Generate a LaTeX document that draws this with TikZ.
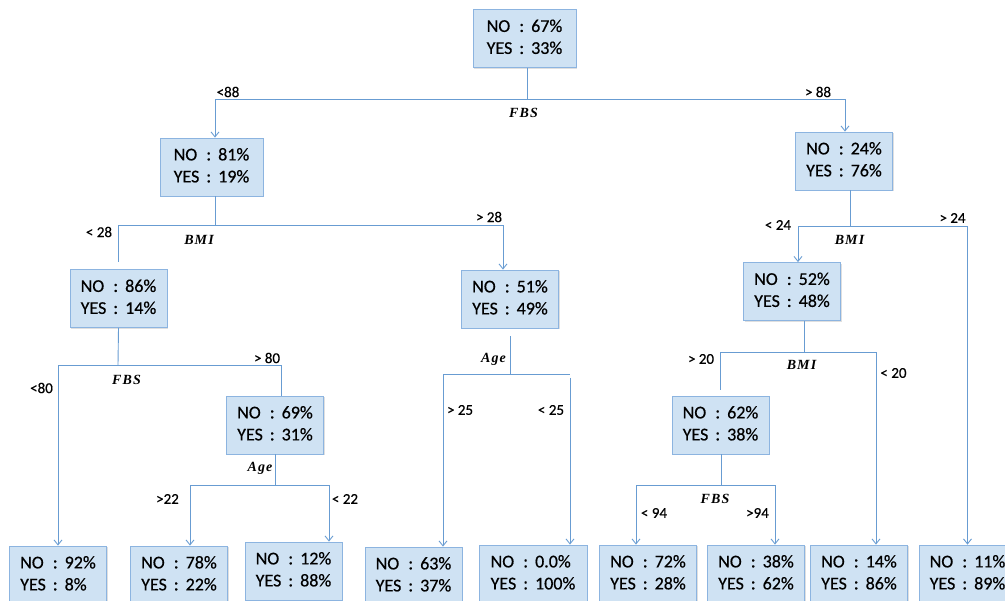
\documentclass[tikz,border=0pt]{standalone}
\usepackage{fontspec}
\setmainfont{Carlito}[FakeBold=0.5]
\newfontfamily\attrfont[LetterSpace=8]{Liberation Serif}
\usetikzlibrary{arrows.meta,shadows}
\definecolor{boxfill}{RGB}{207,226,243}
\definecolor{boxline}{RGB}{140,180,224}
\definecolor{edgeblue}{RGB}{104,156,210}
\newcommand{\nyval}[2]{\begin{tabular}{@{}l@{\hspace{7pt}:\hspace{7pt}}l@{}}NO&#1\%\\YES&#2\%\end{tabular}}

\begin{document}
\begin{tikzpicture}[x=1pt,y=-1pt,
		box/.style={draw=boxline,fill=boxfill,line width=0.8pt,minimum width=97pt,minimum height=58pt,inner sep=0pt,
			font=\fontsize{18}{22}\selectfont,drop shadow={shadow xshift=1pt,shadow yshift=-1.5pt,opacity=0.25}},
		edge/.style={draw=edgeblue,line width=0.9pt},
		arr/.style={edge,-{Straight Barb[length=5pt,width=8pt]}},
		cond/.style={inner sep=0pt,font=\fontsize{15}{18}\selectfont},
		attr/.style={inner sep=0pt,font=\fontsize{14}{16}\attrfont\bfseries\itshape}]
	\clip (0,0) rectangle (1005,601);
	% tree boxes
	\node[box,minimum width=103pt] (root) at (524.5,38.5) {\nyval{67}{33}};
	\node[box,minimum width=103pt] (l1) at (211.5,167) {\nyval{81}{19}};
	\node[box] (r1) at (844,161) {\nyval{24}{76}};
	\node[box] (l2) at (118.5,298.5) {\nyval{86}{14}};
	\node[box] (m) at (510,299) {\nyval{51}{49}};
	\node[box] (r2) at (792,291.5) {\nyval{52}{48}};
	\node[box] (n69) at (275,425) {\nyval{69}{31}};
	\node[box] (r3) at (720.5,425) {\nyval{62}{38}};
	% leaves
	\node[box] (k92) at (58,575) {\nyval{92}{8}};
	\node[box] (k78) at (179,575) {\nyval{78}{22}};
	\node[box] (k12) at (293.5,571) {\nyval{12}{88}};
	\node[box] (k63) at (413.5,576) {\nyval{63}{37}};
	\node[box,minimum width=108pt] (k00) at (533,574) {\nyval{0.0}{100}};
	\node[box] (k72) at (648,574) {\nyval{72}{28}};
	\node[box] (k38) at (756,574) {\nyval{38}{62}};
	\node[box] (k14) at (859,574) {\nyval{14}{86}};
	\node[box] (k89) at (967.5,574) {\nyval{11}{89}};
	% junctions
	\coordinate (j0) at (527,99);
	\coordinate (j1) at (215,225);
	\coordinate (j2) at (850,226);
	\coordinate (j3) at (118,365);
	\coordinate (j4) at (510,374);
	\coordinate (j4r) at (570,374);
	\coordinate (j5) at (275,485);
	\coordinate (j6) at (804,352);
	\coordinate (j7) at (721,485);
	% connectors
	\draw[edge] (j0 |- root.south) -- (j0);
	\draw[arr] (j0) -| ([xshift=3.5pt]l1.north);
	\draw[arr] (j0) -| ([xshift=1pt]r1.north);
	\draw[edge] (j1 |- l1.south) -- (j1);
	\draw[edge] (j1) -| ([yshift=7pt]l2.north);
	\draw[arr] (j1) -| ([xshift=-7pt]m.north);
	\draw[edge] (j2 |- r1.south) -- (j2);
	\draw[arr] (j2) -| ([xshift=6pt]r2.north);
	\draw[arr] (j2) -| (k89.north);
	\draw[edge] (l2.south) -- (j3);
	\draw[arr] (j3) -| (k92.north);
	\draw[edge] (j3) -| ([xshift=6pt]n69.north);
	\draw[edge] ([yshift=-8pt]m.south) -- (j4) -- (j4r);
	\draw[arr] (j4) -| ([xshift=29.5pt]k63.north);
	\draw[arr] ([yshift=-4pt]j4r) -- (j4r |- k00.north);
	\draw[edge] (n69.south) -- (j5);
	\draw[arr] (j5) -| ([xshift=11pt]k78.north);
	\draw[arr] (j5) -| ([xshift=35.5pt]k12.north);
	\draw[edge] (j6 |- r2.south) -- (j6);
	\draw[edge] (j6) -| ([yshift=6pt]r3.north);
	\draw[arr] (j6) -| ([xshift=17pt]k14.north);
	\draw[edge] (j7 |- r3.south) -- (j7);
	\draw[arr] (j7) -| ([xshift=-12pt]k72.north);
	\draw[arr] (j7) -| ([xshift=19pt]k38.north);
	% split labels
	\node[attr] (a0) at (523.5,113) {FBS};
	\node[cond] (c0l) at (228,92) {<88};
	\node[cond] (c0r) at (818,92) {> 88};
	\node[attr] (a1) at (199,240) {BMI};
	\node[cond] (c1l) at (99,232) {< 28};
	\node[cond] (c1r) at (489,217) {> 28};
	\node[attr] (a2) at (849.5,240) {BMI};
	\node[cond] (c2l) at (778,225) {< 24};
	\node[cond] (c2r) at (952.5,218) {> 24};
	\node[attr] (a3) at (126.5,380) {FBS};
	\node[cond] (c3l) at (41.5,388) {<80};
	\node[cond] (c3r) at (267,358) {> 80};
	\node[attr] (a4) at (493.5,359) {Age};
	\node[cond] (c4l) at (460,410) {> 25};
	\node[cond] (c4r) at (551,410) {< 25};
	\node[attr] (a5) at (260,468) {Age};
	\node[cond] (c5l) at (167.5,499) {>22};
	\node[cond] (c5r) at (345,499) {< 22};
	\node[attr] (a6) at (801.5,365) {BMI};
	\node[cond] (c6l) at (701,359) {> 20};
	\node[cond] (c6r) at (893.5,373) {< 20};
	\node[attr] (a7) at (715,499) {FBS};
	\node[cond] (c7l) at (654,513) {< 94};
	\node[cond] (c7r) at (757.5,513) {>94};
\end{tikzpicture}
\end{document}
